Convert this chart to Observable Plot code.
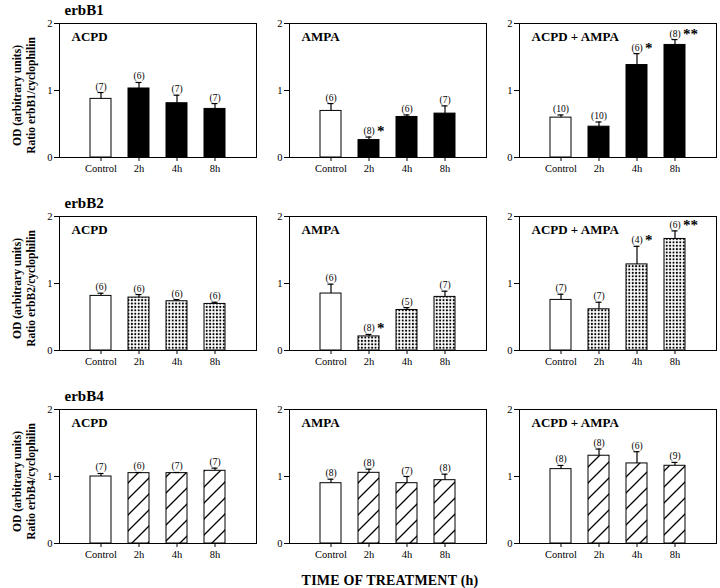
<!DOCTYPE html>
<html>
<head>
<meta charset="utf-8">
<script src="https://cdn.jsdelivr.net/npm/d3@7"></script>
<script src="https://cdn.jsdelivr.net/npm/@observablehq/plot@0.6"></script>
<style>
  html, body { margin: 0; padding: 0; background: white; }
  #wrap { position: relative; width: 720px; height: 588px; font-family: "Liberation Serif", "Times New Roman", serif; }
  #xtitle { position: absolute; left: 60px; width: 660px; top: 573px; text-align: center; font-weight: bold; font-size: 14px; letter-spacing: 0.2px; }
</style>
</head>
<body>
<svg width="0" height="0" style="position:absolute">
  <defs>
    <pattern id="dots" width="3.4" height="3.4" patternUnits="userSpaceOnUse">
      <rect width="3.4" height="3.4" fill="white"/>
      <circle cx="1.7" cy="1.7" r="1.05" fill="black"/>
    </pattern>
    <pattern id="hatch" width="16" height="16" patternUnits="userSpaceOnUse">
      <rect width="16" height="16" fill="white"/>
      <path d="M0,16L16,0M-4,4L4,-4M12,20L20,12" stroke="black" stroke-width="1.3"/>
    </pattern>
  </defs>
</svg>
<div id="wrap">
  <div id="chart"></div>
  <div id="xtitle">TIME OF TREATMENT (h)</div>
</div>
<script>
// ---- data ----
const genes = ["erbB1", "erbB2", "erbB4"];
const treatments = ["ACPD", "AMPA", "ACPD + AMPA"];
const times = ["Control", "2h", "4h", "8h"];
const yTicks = [0, 1, 2];

// rows: treatments (ACPD, AMPA, ACPD + AMPA); columns: times
const erbB1Mean = [[0.875, 1.03, 0.81, 0.725], [0.695, 0.26, 0.605, 0.655], [0.595, 0.46, 1.38, 1.68]];
const erbB1Err  = [[0.095, 0.09, 0.12, 0.08], [0.11, 0.045, 0.03, 0.115], [0.04, 0.07, 0.17, 0.08]];
const erbB1N    = [[7, 6, 7, 7], [6, 8, 6, 7], [10, 10, 6, 8]];
const erbB1Sig  = [["", "", "", ""], ["", "*", "", ""], ["", "", "*", "**"]];

const erbB2Mean = [[0.815, 0.79, 0.735, 0.695], [0.85, 0.21, 0.605, 0.80], [0.755, 0.615, 1.285, 1.665]];
const erbB2Err  = [[0.04, 0.045, 0.025, 0.025], [0.14, 0.03, 0.035, 0.085], [0.085, 0.105, 0.27, 0.12]];
const erbB2N    = [[6, 6, 6, 6], [6, 8, 5, 7], [7, 7, 4, 6]];
const erbB2Sig  = [["", "", "", ""], ["", "*", "", ""], ["", "", "*", "**"]];

const erbB4Mean = [[1.0, 1.05, 1.05, 1.085], [0.9, 1.055, 0.9, 0.945], [1.11, 1.31, 1.195, 1.16]];
const erbB4Err  = [[0.045, 0.01, 0.01, 0.04], [0.06, 0.055, 0.1, 0.09], [0.055, 0.1, 0.175, 0.05]];
const erbB4N    = [[7, 6, 7, 7], [8, 8, 7, 8], [8, 8, 6, 9]];
const erbB4Sig  = [["", "", "", ""], ["", "", "", ""], ["", "", "", ""]];

const series = {
  erbB1: [erbB1Mean, erbB1Err, erbB1N, erbB1Sig],
  erbB2: [erbB2Mean, erbB2Err, erbB2N, erbB2Sig],
  erbB4: [erbB4Mean, erbB4Err, erbB4N, erbB4Sig]
};

const rows = [];
for (const gene of genes) {
  const [M, E, N, S] = series[gene];
  treatments.forEach((treat, i) => {
    times.forEach((time, j) => {
      rows.push({gene, treat, time, mean: M[i][j], err: E[i][j], n: N[i][j], sig: S[i][j]});
    });
  });
}
const cells = genes.flatMap(gene => treatments.map(treat => ({gene, treat})));

const treatFill = {erbB1: "black", erbB2: "url(#dots)", erbB4: "url(#hatch)"};
const errTop = d => d.mean + d.err;

const chart = Plot.plot({
  width: 720,
  height: 568,
  marginTop: 23,
  marginBottom: 25,
  marginLeft: 58,
  marginRight: 4,
  style: {fontFamily: "'Liberation Serif', 'Times New Roman', serif", fontSize: "10.5px", color: "black", background: "white"},
  fx: {domain: treatments, paddingInner: 0.145, paddingOuter: 0, axis: null, label: null},
  fy: {domain: genes, paddingInner: 0.3057, paddingOuter: 0, axis: null, label: null},
  x: {domain: times, paddingInner: 0.45, paddingOuter: 0.81, align: 0.5, label: null},
  y: {domain: [0, 2], label: null},
  color: {type: "identity"},
  marks: [
    Plot.barY(rows, {fx: "treat", fy: "gene", x: "time", y: "mean",
      fill: d => d.time === "Control" ? "white" : treatFill[d.gene],
      stroke: "black", strokeWidth: 1}),
    Plot.ruleX(rows, {fx: "treat", fy: "gene", x: "time", y1: "mean", y2: errTop, stroke: "black", strokeWidth: 1.2}),
    Plot.tickY(rows, {fx: "treat", fy: "gene", x: "time", y: errTop, insetLeft: 7.5, insetRight: 7.5, stroke: "black", strokeWidth: 1.2}),
    Plot.text(rows, {fx: "treat", fy: "gene", x: "time", y: errTop, text: d => `(${d.n})`, lineAnchor: "bottom", dy: -3, fontSize: 9.5}),
    Plot.text(rows.filter(d => d.sig), {fx: "treat", fy: "gene", x: "time", y: errTop, text: "sig", textAnchor: "start", lineAnchor: "bottom", dx: 8, dy: -1, fontSize: 15, fontWeight: "bold"}),
    Plot.frame({stroke: "black", strokeWidth: 1}),
    Plot.axisY({ticks: yTicks, tickFormat: d => d, tickSize: 5, tickPadding: 2, label: null, facetAnchor: null}),
    Plot.axisX({tickSize: 4, tickPadding: 3, label: null, facetAnchor: null}),
    Plot.text(cells, {fx: "treat", fy: "gene", text: "treat", frameAnchor: "top-left", dx: 12, dy: 8, fontSize: 13, fontWeight: "bold"}),
    Plot.text(genes, {fx: () => "ACPD", fy: d => d, text: d => d, frameAnchor: "top-left", dx: 5, dy: -19, fontSize: 15, fontWeight: "bold"}),
    Plot.text(genes, {fx: () => "ACPD", fy: d => d, text: d => `OD (arbitrary units)\nRatio ${d}/cyclophilin`,
      frameAnchor: "left", rotate: -90, textAnchor: "middle", lineAnchor: "middle", lineHeight: 1.2,
      dx: -36, dy: 5, fontSize: 11.5, fontWeight: "bold"})
  ]
});
document.getElementById("chart").appendChild(chart);
</script>
</body>
</html>
